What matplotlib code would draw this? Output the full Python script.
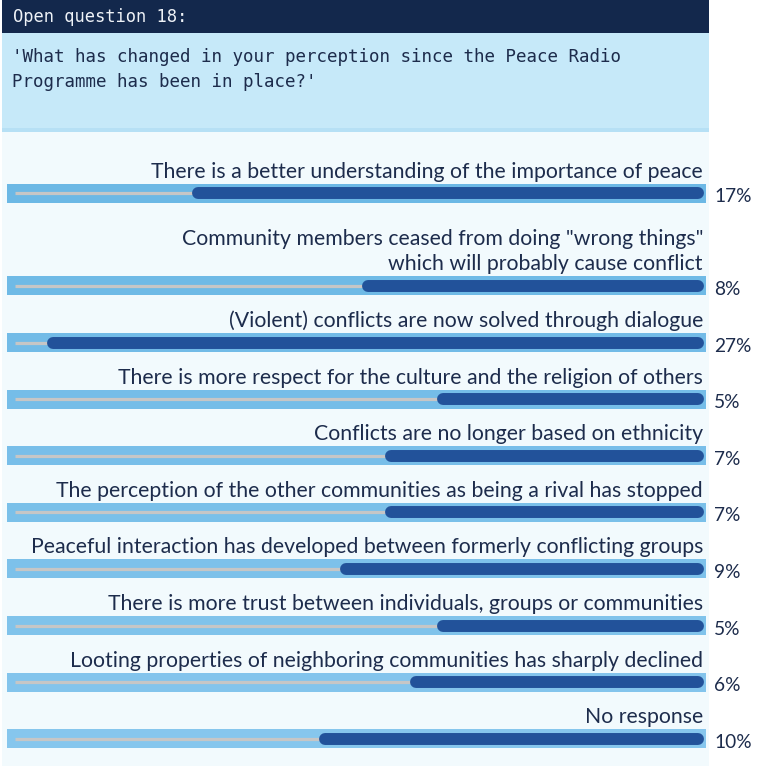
import numpy as np
import matplotlib.pyplot as plt
from matplotlib.colors import to_rgb
from matplotlib.patches import Rectangle

# Survey answers (top to bottom) and share of respondents in percent
answers = [
    "There is a better understanding of the importance of peace",
    'Community members ceased from doing "wrong things"\nwhich will probably cause conflict',
    "(Violent) conflicts are now solved through dialogue",
    "There is more respect for the culture and the religion of others",
    "Conflicts are no longer based on ethnicity",
    "The perception of the other communities as being a rival has stopped",
    "Peaceful interaction has developed between formerly conflicting groups",
    "There is more trust between individuals, groups or communities",
    "Looting properties of neighboring communities has sharply declined",
    "No response",
]
shares = [17, 8, 27, 5, 7, 7, 9, 5, 6, 10]

header = "Open question 18:"
question_lines = [
    "'What has changed in your perception since the Peace Radio",
    "Programme has been in place?'",
]

# colours
NAVY = "#13284c"
QBOX = "#c6e9f9"
QBOX_EDGE = "#b6e0f5"
PANEL = "#f2fafd"
TRACK_TOP = np.array(to_rgb("#6cb8e5"))
TRACK_BOTTOM = np.array(to_rgb("#86c6ed"))
GREY = "#c6c6c6"
BAR = "#22529a"
TEXT = "#1d2c4c"

W, H = 767, 766
EXP = 0.55          # bar length grows with share**EXP
XMAX = 30           # share at the far left end of the track

fig = plt.figure(figsize=(W / 100, H / 100), dpi=100)
fig.patch.set_facecolor("white")

# pixel-space axes for the panel, header and labels
base = fig.add_axes([0, 0, 1, 1])
base.set_xlim(0, W)
base.set_ylim(H, 0)
base.axis("off")

base.add_patch(Rectangle((2, 0), 707, 33, color=NAVY, lw=0))
base.add_patch(Rectangle((2, 33), 707, 99, color=QBOX, lw=0))
base.add_patch(Rectangle((2, 128), 707, 4, color=QBOX_EDGE, lw=0))
base.add_patch(Rectangle((2, 132), 707, 634, color=PANEL, lw=0))

base.text(13, 22, header, color="#eef2f7", fontsize=12.3,
          family="DejaVu Sans Mono", va="baseline")
for i, line in enumerate(question_lines):
    base.text(12, 62 + 25 * i, line, color=TEXT, fontsize=12.6,
              family="DejaVu Sans Mono", va="baseline")

# row centres: fixed pitch plus extra room for wrapped answers
row_y = []
y = 193.3
for ans in answers:
    y += 36 * ans.count("\n")
    row_y.append(y)
    y += 56.6

# bar axes: x runs right-to-left from 0 on a power scale
bx = fig.add_axes([15 / W, 0, (698 - 15) / W, 1])
bx.set_xscale("function", functions=(
    lambda x: np.power(np.clip(x, 0, None), EXP),
    lambda x: np.power(np.clip(x, 0, None), 1 / EXP),
))
bx.set_xlim(XMAX, 0)
bx.set_ylim(H, 0)
bx.axis("off")

n = len(answers)
for i, (ans, share, yc) in enumerate(zip(answers, shares, row_y)):
    track = TRACK_TOP + (TRACK_BOTTOM - TRACK_TOP) * i / (n - 1)
    base.add_patch(Rectangle((7, yc - 9.5), 699, 19, color=track, lw=0))
    bx.plot([XMAX, 0], [yc, yc], color=GREY, lw=2.3, solid_capstyle="butt")
    bx.plot([share, 0], [yc, yc], color=BAR, lw=8.6,
            solid_capstyle="round", clip_on=False)
    base.text(703, yc - 15.5, ans, color=TEXT, fontsize=15.35, family="Lato",
              ha="right", va="baseline", multialignment="right", linespacing=1.35)
    base.text(714, yc + 3.5, f"{share}%", color=TEXT, fontsize=13.8,
              family="Lato", ha="left", va="center")

fig.savefig("out.png", dpi=100, facecolor="white")
